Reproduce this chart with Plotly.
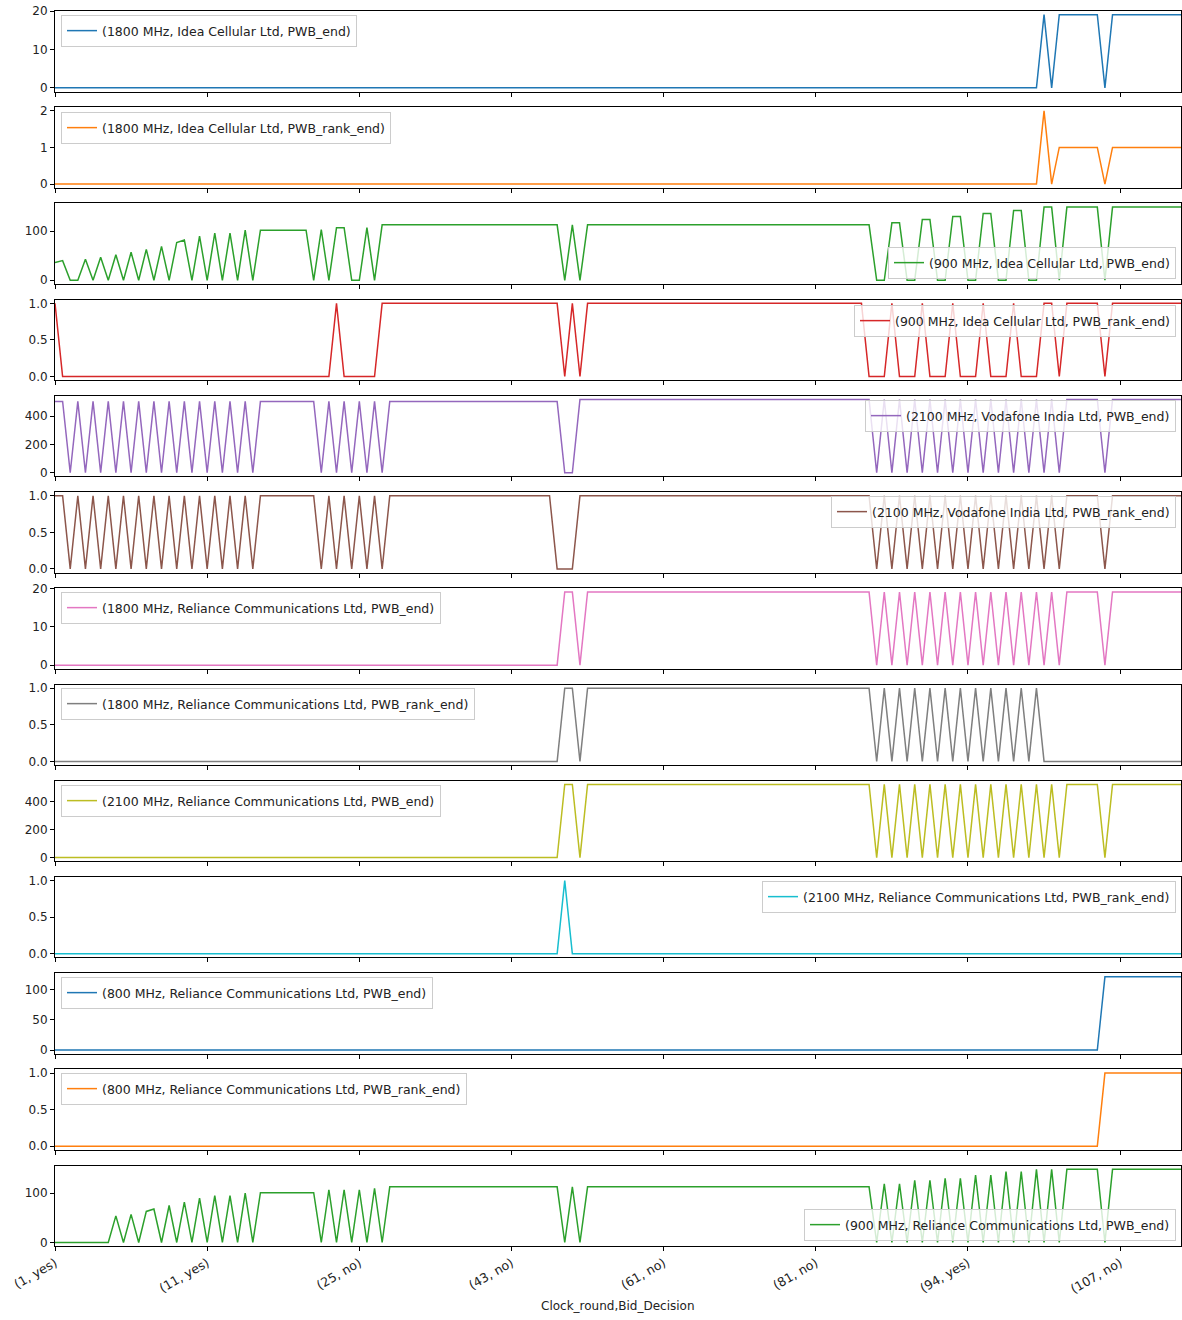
import plotly.graph_objects as go

# ---------------- data ----------------
n_rows = 149
x_index = list(range(n_rows))
tick_positions = [0, 20, 40, 60, 80, 100, 120, 140]
tick_labels = ["(1, yes)", "(11, yes)", "(25, no)", "(43, no)",
               "(61, no)", "(81, no)", "(94, yes)", "(107, no)"]

idea_1800_pwb = [0] * 130 + [19.05, 0] + [19.05] * 6 + [0] + [19.05] * 10
idea_1800_rank = [0] * 130 + [2, 0] + [1] * 6 + [0] + [1] * 10

idea_900_pwb = ([36, 40, 0, 0, 43, 0, 47, 0, 52, 0, 57, 0, 63, 0, 69, 0, 77, 82, 0, 90,
                 0, 96, 0, 96, 0, 102, 0] + [102] * 7 +
                [0, 103, 0, 107, 107, 0, 0, 107, 0] + [113] * 24 + [0, 113, 0] + [113] * 38 +
                [0, 0, 117, 117, 0, 0, 124, 124, 0, 0, 130, 130, 0, 0, 136, 136, 0, 0, 142, 142,
                 0, 0, 149, 149, 0] + [149] * 5 + [0] + [149] * 10)
idea_900_rank = ([1] + [0] * 36 + [1] + [0] * 5 + [1] * 24 + [0, 1, 0] + [1] * 37 + [0] * 3 +
                 [1, 0, 0, 0, 1, 0, 0, 0, 1, 0, 0, 0, 1, 0, 0, 0, 1, 0, 0, 0, 1, 1, 0] +
                 [1] * 5 + [0] + [1] * 10)

voda_2100_pwb = ([505, 505, 0, 505, 0, 505, 0, 505, 0, 505, 0, 505, 0, 505, 0, 505, 0, 505, 0,
                  505, 0, 505, 0, 505, 0, 505, 0] + [505] * 8 +
                 [0, 505, 0, 505, 0, 505, 0, 505, 0] + [505] * 23 + [0, 0] + [518] * 39 +
                 [0, 518, 0, 518, 0, 518, 0, 518, 0, 518, 0, 518, 0, 518, 0, 518, 0, 518, 0,
                  518, 0, 518, 0, 518, 0] + [518] * 5 + [0] + [518] * 10)
voda_2100_rank = ([1, 1, 0, 1, 0, 1, 0, 1, 0, 1, 0, 1, 0, 1, 0, 1, 0, 1, 0, 1, 0, 1, 0, 1, 0, 1, 0] +
                  [1] * 8 + [0, 1, 0, 1, 0, 1, 0, 1, 0] + [1] * 22 + [0, 0, 0] + [1] * 39 +
                  [0, 1, 0, 1, 0, 1, 0, 1, 0, 1, 0, 1, 0, 1, 0, 1, 0, 1, 0, 1, 0, 1, 0, 1, 0] +
                  [1] * 5 + [0] + [1] * 10)

rcom_1800_pwb = ([0] * 67 + [19.05, 19.05, 0] + [19.05] * 38 +
                 [0, 19.05, 0, 19.05, 0, 19.05, 0, 19.05, 0, 19.05, 0, 19.05, 0, 19.05, 0,
                  19.05, 0, 19.05, 0, 19.05, 0, 19.05, 0, 19.05, 0] + [19.05] * 5 + [0] + [19.05] * 10)
rcom_1800_rank = ([0] * 67 + [1, 1, 0] + [1] * 38 +
                  [0, 1, 0, 1, 0, 1, 0, 1, 0, 1, 0, 1, 0, 1, 0, 1, 0, 1, 0, 1, 0, 1] + [0] * 19)
rcom_2100_pwb = ([0] * 67 + [524, 524, 0] + [524] * 38 +
                 [0, 524, 0, 524, 0, 524, 0, 524, 0, 524, 0, 524, 0, 524, 0, 524, 0, 524, 0,
                  524, 0, 524, 0, 524, 0] + [524] * 5 + [0] + [524] * 10)
rcom_2100_rank = [0] * 67 + [1] + [0] * 81
rcom_800_pwb = [0] * 138 + [121.6] * 11
rcom_800_rank = [0] * 138 + [1] * 11
rcom_900_pwb = ([0] * 8 + [54, 0, 57, 0, 63, 68, 0, 75, 0, 82, 0, 90, 0, 95, 0, 95, 0, 100, 0] +
                [101] * 8 + [0, 107, 0, 107, 0, 107, 0, 110, 0] + [113] * 23 + [0, 113, 0] +
                [113] * 38 +
                [0, 119, 0, 119, 0, 126, 0, 126, 0, 130, 0, 130, 0, 137, 0, 137, 0, 144, 0, 144,
                 0, 148.5, 0, 148.5, 0] + [148.5] * 5 + [0] + [148.5] * 10)

series_names = [
    "(1800 MHz, Idea Cellular Ltd, PWB_end)",
    "(1800 MHz, Idea Cellular Ltd, PWB_rank_end)",
    "(900 MHz, Idea Cellular Ltd, PWB_end)",
    "(900 MHz, Idea Cellular Ltd, PWB_rank_end)",
    "(2100 MHz, Vodafone India Ltd, PWB_end)",
    "(2100 MHz, Vodafone India Ltd, PWB_rank_end)",
    "(1800 MHz, Reliance Communications Ltd, PWB_end)",
    "(1800 MHz, Reliance Communications Ltd, PWB_rank_end)",
    "(2100 MHz, Reliance Communications Ltd, PWB_end)",
    "(2100 MHz, Reliance Communications Ltd, PWB_rank_end)",
    "(800 MHz, Reliance Communications Ltd, PWB_end)",
    "(800 MHz, Reliance Communications Ltd, PWB_rank_end)",
    "(900 MHz, Reliance Communications Ltd, PWB_end)",
]
series_values = [idea_1800_pwb, idea_1800_rank, idea_900_pwb, idea_900_rank,
                 voda_2100_pwb, voda_2100_rank, rcom_1800_pwb, rcom_1800_rank,
                 rcom_2100_pwb, rcom_2100_rank, rcom_800_pwb, rcom_800_rank, rcom_900_pwb]
y_ticks = [[0, 10, 20], [0, 1, 2], [0, 100], [0, 0.5, 1], [0, 200, 400], [0, 0.5, 1],
           [0, 10, 20], [0, 0.5, 1], [0, 200, 400], [0, 0.5, 1], [0, 50, 100], [0, 0.5, 1],
           [0, 100]]
y_formats = ["d", "d", "d", ".1f", "d", ".1f", "d", ".1f", "d", ".1f", "d", ".1f", "d"]

# ---------------- style / layout ----------------
colors = ["#1f77b4", "#ff7f0e", "#2ca02c", "#d62728", "#9467bd", "#8c564b", "#e377c2",
          "#7f7f7f", "#bcbd22", "#17becf", "#1f77b4", "#ff7f0e", "#2ca02c"]
# legend placement: (corner, pixel x, pixel y)
legend_place = [("ul", 61, 15), ("ul", 61, 112), ("lr", 1176, 279), ("ur", 1176, 305),
                ("ur", 1176, 400), ("ur", 1176, 496), ("ul", 61, 592), ("ul", 61, 688),
                ("ul", 61, 785), ("ur", 1176, 881), ("ul", 61, 977), ("ul", 61, 1073),
                ("lr", 1176, 1241)]

W, H = 1182, 1320
ML, MR = 55, 1
font_family = "DejaVu Sans"


def px2x(px):
    return (px - ML) / (W - ML - MR)


def px2y(py):
    return 1 - py / H


fig = go.Figure()
layout = dict(
    width=W, height=H,
    margin=dict(l=ML, r=MR, t=0, b=0),
    paper_bgcolor="white", plot_bgcolor="white",
    font=dict(family=font_family, size=12, color="#222"),
    showlegend=True,
)

n_sub = len(series_values)
for k in range(n_sub):
    top = 11 + 96.22 * k
    bot = top + 80.5
    xa = "xaxis" if k == 0 else f"xaxis{k + 1}"
    ya = "yaxis" if k == 0 else f"yaxis{k + 1}"
    xr = "x" if k == 0 else f"x{k + 1}"
    yr = "y" if k == 0 else f"y{k + 1}"
    lg = "legend" if k == 0 else f"legend{k + 1}"
    vals = series_values[k]
    vmax = max(vals)
    fig.add_trace(go.Scatter(
        x=x_index, y=vals, mode="lines", name=series_names[k],
        line=dict(color=colors[k], width=1.5), xaxis=xr, yaxis=yr, legend=lg,
        showlegend=True))
    last = (k == n_sub - 1)
    layout[xa] = dict(
        domain=[0, 1], anchor=yr, range=[0, n_rows - 1],
        tickmode="array", tickvals=tick_positions, ticktext=tick_labels,
        showticklabels=last, tickangle=-30, ticks="outside", ticklen=4,
        tickcolor="black", tickwidth=1, showgrid=False, zeroline=False,
        showline=True, linecolor="black", linewidth=1, mirror=True,
        tickfont=dict(size=12.5, color="#222"), automargin=False,
    )
    if k > 0:
        layout[xa]["matches"] = "x"
    layout[ya] = dict(
        domain=[px2y(bot), px2y(top)], anchor=xr,
        range=[-0.05 * vmax, 1.05 * vmax],
        tickmode="array", tickvals=y_ticks[k], tickformat=y_formats[k],
        ticks="outside", ticklen=4, tickcolor="black", tickwidth=1,
        showgrid=False, zeroline=False, showline=True, linecolor="black",
        linewidth=1, mirror=True, tickfont=dict(size=12, color="#222"),
        automargin=False,
    )
    corner, lx, ly = legend_place[k]
    layout[lg] = dict(
        x=px2x(lx), y=px2y(ly),
        xanchor="left" if corner[1] == "l" else "right",
        yanchor="top" if corner[0] == "u" else "bottom",
        bgcolor="rgba(255,255,255,0.8)", bordercolor="#cccccc", borderwidth=1,
        font=dict(family=font_family, size=12.5, color="#222"),
    )

layout["annotations"] = [dict(
    text="Clock_round,Bid_Decision", x=0.5, y=px2y(1306), xref="paper", yref="paper",
    showarrow=False, font=dict(family=font_family, size=12, color="#222"),
    xanchor="center", yanchor="middle")]

fig.update_layout(**layout)
fig.write_html("out.html")
